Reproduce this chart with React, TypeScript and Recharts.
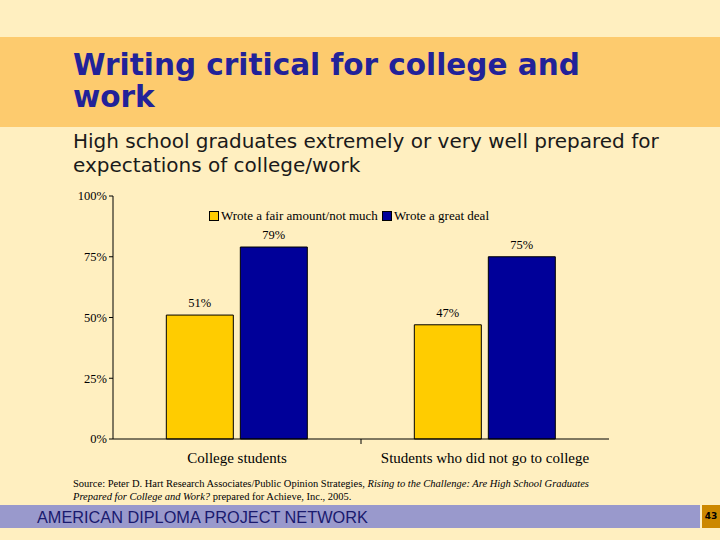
import React from "react"
import { BarChart, Bar, XAxis, YAxis, LabelList, Legend } from "recharts"

const categories = ["College students", "Students who did not go to college"]
const fairAmount = [0.51, 0.47]
const greatDeal = [0.79, 0.75]
const yTicks = [0, 0.25, 0.5, 0.75, 1]

const SERIES = [
  { key: "fair", name: "Wrote a fair amount/not much", color: "#FFCC00" },
  { key: "great", name: "Wrote a great deal", color: "#000099" },
]

const data = categories.map((name, i) => ({ name, fair: fairAmount[i], great: greatDeal[i] }))

const pct = (v: number) => `${Math.round(v * 100)}%`

const PLOT_W = 496

const CategoryTick = ({ x, y, payload, index }: any) => {
  const band = PLOT_W / categories.length
  return (
    <g>
      {index < categories.length - 1 && (
        <line x1={x + band / 2} x2={x + band / 2} y1={y - 8} y2={y - 3} stroke="#000" />
      )}
      <text x={x} y={y + 16} textAnchor="middle" fontSize={15} fill="#000" fontFamily="'Liberation Serif', serif">
        {payload.value}
      </text>
    </g>
  )
}

const LegendContent = ({ payload }: any) => (
  <div style={{ display: "flex", fontFamily: "'Liberation Serif', serif", fontSize: 13, color: "#000" }}>
    {payload.map((p: any) => (
      <div key={p.value} style={{ display: "flex", alignItems: "center", marginRight: 4 }}>
        <span style={{ width: 8, height: 8, background: p.color, border: "1px solid #000", marginRight: 2 }} />
        {p.value}
      </div>
    ))}
  </div>
)

export default function App() {
  return (
    <div style={{ position: "absolute", left: 0, top: 0, width: 720, height: 540, background: "#FFEFC0", overflow: "hidden" }}>
      <div style={{ position: "absolute", left: 0, top: 37, width: 720, height: 90, background: "#FDCB6E" }} />
      <div
        style={{
          position: "absolute",
          left: 73,
          top: 49,
          width: 540,
          fontFamily: "'DejaVu Sans', sans-serif",
          fontWeight: "bold",
          fontSize: 29.5,
          lineHeight: "32px",
          color: "#222299",
        }}
      >
        Writing critical for college and work
      </div>
      <div
        style={{
          position: "absolute",
          left: 73,
          top: 129,
          width: 620,
          fontFamily: "'DejaVu Sans', sans-serif",
          fontSize: 20,
          lineHeight: "24px",
          color: "#1a1a1a",
        }}
      >
        High school graduates extremely or very well prepared for expectations of college/work
      </div>
      <div style={{ position: "absolute", left: 0, top: 180 }}>
        <BarChart
          width={720}
          height={300}
          data={data}
          margin={{ top: 16, right: 111, bottom: 11, left: 63 }}
          barCategoryGap="21.5%"
          barGap={7}
        >
          <XAxis
            dataKey="name"
            axisLine={{ stroke: "#000" }}
            tickLine={false}
            tick={<CategoryTick />}
            height={30}
            interval={0}
          />
          <YAxis
            domain={[0, 1]}
            ticks={yTicks}
            tickFormatter={pct}
            axisLine={{ stroke: "#000" }}
            tickLine={{ stroke: "#000" }}
            tickSize={4}
            width={50}
            tick={{ fontSize: 12.5, fill: "#000", fontFamily: "'Liberation Serif', serif" }}
          />
          <Legend
            verticalAlign="middle"
            align="center"
            layout="horizontal"
            content={<LegendContent />}
            wrapperStyle={{ top: 28, left: 209, width: "auto" }}
          />
          {SERIES.map((s) => (
            <Bar key={s.key} dataKey={s.key} name={s.name} fill={s.color} stroke="#000" strokeWidth={1} isAnimationActive={false}>
              <LabelList
                dataKey={s.key}
                position="top"
                formatter={pct}
                offset={8}
                style={{ fontSize: 12.5, fill: "#000", fontFamily: "'Liberation Serif', serif" }}
              />
            </Bar>
          ))}
        </BarChart>
      </div>
      <div
        style={{
          position: "absolute",
          left: 73,
          top: 477,
          width: 630,
          fontFamily: "'Liberation Serif', serif",
          fontSize: 10.5,
          lineHeight: "13px",
          color: "#000",
        }}
      >
        Source: Peter D. Hart Research Associates/Public Opinion Strategies,{" "}
        <i>Rising to the Challenge: Are High School Graduates</i>
        <br />
        <i>Prepared for College and Work?</i> prepared for Achieve, Inc., 2005.
      </div>
      <div style={{ position: "absolute", left: 0, top: 505, width: 700, height: 23, background: "#9999CC" }} />
      <div
        style={{
          position: "absolute",
          left: 37,
          top: 507,
          fontFamily: "'Liberation Sans', sans-serif",
          fontSize: 16.3,
          lineHeight: "20px",
          color: "#1A1A6E",
        }}
      >
        AMERICAN DIPLOMA PROJECT NETWORK
      </div>
      <div
        style={{
          position: "absolute",
          left: 702,
          top: 505,
          width: 18,
          height: 23,
          background: "#CC8800",
          fontFamily: "'DejaVu Sans', sans-serif",
          fontSize: 9,
          fontWeight: "bold",
          lineHeight: "23px",
          textAlign: "center",
          color: "#000",
        }}
      >
        43
      </div>
    </div>
  )
}
